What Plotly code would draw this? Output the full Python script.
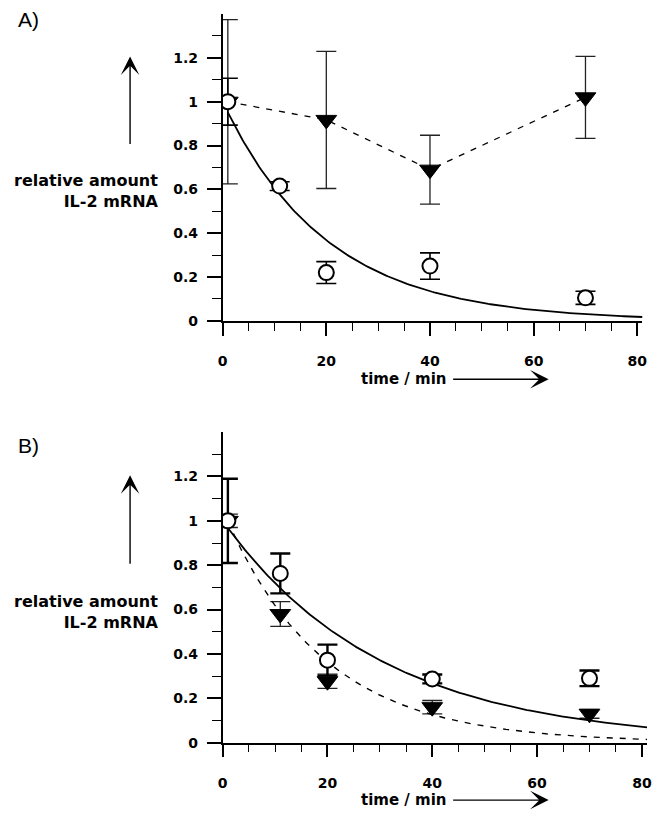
import numpy as np
import plotly.graph_objects as go

# ---------------- data ----------------
# Panel A
a_circ_t = [1, 11, 20, 40, 70]
a_circ_y = [1.0, 0.615, 0.22, 0.25, 0.105]
a_circ_err = [0.107, 0.02, 0.05, 0.06, 0.03]

a_tri_t = [1, 20, 40, 70]
a_tri_y = [1.0, 0.917, 0.69, 1.02]
a_tri_err = [0.375, 0.313, 0.157, 0.187]

# single-exponential fit for the open circles (A)
a_fit_amp, a_fit_rate = 1.0, 0.05

# Panel B
b_circ_t = [1, 11, 20, 40, 70]
b_circ_y = [1.0, 0.763, 0.372, 0.287, 0.29]
b_circ_err = [0.19, 0.09, 0.07, 0.02, 0.035]

b_tri_t = [1, 11, 20, 40, 70]
b_tri_y = [1.0, 0.58, 0.277, 0.16, 0.13]
b_tri_err = [0.03, 0.056, 0.032, 0.03, 0.02]

# single-exponential fits (B): circles solid, triangles dashed
b_fit_amp, b_fit_rate = 1.0, 0.033
b_fit2_amp, b_fit2_rate = 1.05, 0.053

x_ticks = [0, 20, 40, 60, 80]
x_minor = [5, 10, 15, 25, 30, 35, 45, 50, 55, 65, 70, 75]
y_ticks = [0, 0.2, 0.4, 0.6, 0.8, 1.0, 1.2]
y_tick_text = ["0", "0.2", "0.4", "0.6", "0.8", "1", "1.2"]
y_minor = [0.1, 0.3, 0.5, 0.7, 0.9, 1.1, 1.3]

W, H = 660, 816
BOLD = "DejaVu Sans"


def px(x):
    return x / W


def py(y):
    return 1 - y / H


t_fit = np.linspace(1, 81, 200)

fig = go.Figure()


def add_panel(xa, ya, circ_t, circ_y, circ_err, tri_t, tri_y, tri_err,
              tri_dashed_points, fits, circ_err_width):
    # triangles (filled) with error bars
    fig.add_trace(go.Scatter(
        x=tri_t, y=tri_y, xaxis=xa, yaxis=ya,
        mode="lines+markers" if tri_dashed_points else "markers",
        line=dict(color="black", width=1.3, dash="6px,7px"),
        marker=dict(symbol="triangle-down", size=18, color="black",
                    line=dict(color="black", width=1)),
        error_y=dict(type="data", array=tri_err, visible=True,
                     color="#222", thickness=1.3, width=10),
        showlegend=False, hoverinfo="skip"))
    # fitted curves
    for amp, rate, dash in fits:
        fig.add_trace(go.Scatter(
            x=t_fit, y=amp * np.exp(-rate * t_fit), xaxis=xa, yaxis=ya,
            mode="lines",
            line=dict(color="black", width=1.8 if dash == "solid" else 1.4,
                      dash=dash),
            showlegend=False, hoverinfo="skip"))
    # open circles with error bars
    fig.add_trace(go.Scatter(
        x=circ_t, y=circ_y, xaxis=xa, yaxis=ya, mode="markers",
        marker=dict(symbol="circle", size=15, color="white",
                    line=dict(color="black", width=2)),
        error_y=dict(type="data", array=circ_err, visible=True,
                     color="black", thickness=circ_err_width, width=10),
        showlegend=False, hoverinfo="skip"))


add_panel("x", "y", a_circ_t, a_circ_y, a_circ_err,
          a_tri_t, a_tri_y, a_tri_err, True,
          [(a_fit_amp, a_fit_rate, "solid")], 1.6)
add_panel("x2", "y2", b_circ_t, b_circ_y, b_circ_err,
          b_tri_t, b_tri_y, b_tri_err, False,
          [(b_fit_amp, b_fit_rate, "solid"),
           (b_fit2_amp, b_fit2_rate, "6px,7px")], 2.4)

xaxis_common = dict(
    range=[0, 81], showgrid=False, zeroline=False, showline=True,
    linecolor="black", linewidth=1.5, ticks="outside", ticklen=13,
    tickwidth=1.5, tickcolor="black", tickvals=x_ticks,
    ticklabelstandoff=14,
    tickfont=dict(family=BOLD, size=14, color="black", weight="bold"),
    minor=dict(tickvals=x_minor, ticks="outside", ticklen=8,
               tickwidth=1.3, tickcolor="black"),
)
yaxis_common = dict(
    range=[0, 1.4], showgrid=False, zeroline=False, showline=True,
    linecolor="black", linewidth=1.5, ticks="outside", ticklen=14,
    tickwidth=1.5, tickcolor="black", tickvals=y_ticks,
    ticktext=y_tick_text, ticklabelstandoff=6,
    tickfont=dict(family=BOLD, size=14, color="black", weight="bold"),
    minor=dict(tickvals=y_minor, ticks="outside", ticklen=9,
               tickwidth=1.3, tickcolor="black"),
)

fig.update_layout(
    width=W, height=H, margin=dict(l=0, r=0, t=0, b=0),
    paper_bgcolor="white", plot_bgcolor="white",
    xaxis=dict(xaxis_common, domain=[px(221), px(647.3)], anchor="y"),
    yaxis=dict(yaxis_common, domain=[py(324), py(14.2)], anchor="x"),
    xaxis2=dict(xaxis_common, domain=[px(221), px(652)], anchor="y2"),
    yaxis2=dict(yaxis_common, domain=[py(750), py(436.4)], anchor="x2"),
)

annotations = []
for label, ly, ylab_c, xlab_y, arrow_tip, arrow_tail in [
        ("A)", 20, 193, 383, 57, 146),
        ("B)", 450, 618, 808, 480, 570)]:
    annotations.append(dict(
        x=px(11), y=py(ly), xref="paper", yref="paper", text=label,
        showarrow=False, xanchor="left", yanchor="middle",
        font=dict(family="Liberation Sans", size=21, color="black")))
    annotations.append(dict(
        x=px(158), y=py(ylab_c), xref="paper", yref="paper",
        text="relative amount<br>IL-2 mRNA", showarrow=False,
        xanchor="right", yanchor="middle", align="right",
        font=dict(family=BOLD, size=16, color="black", weight="bold")))
    annotations.append(dict(
        x=px(359), y=py(xlab_y), xref="paper", yref="paper",
        text="time / min", showarrow=False, xanchor="left",
        yanchor="middle",
        font=dict(family=BOLD, size=15, color="black", weight="bold")))
    # horizontal arrow next to the x-axis title
    annotations.append(dict(
        x=px(552), y=py(xlab_y), xref="paper", yref="paper", text="",
        showarrow=True, ax=-97, ay=0, axref="pixel", ayref="pixel",
        arrowhead=3, arrowsize=2.2, arrowwidth=1.4, arrowcolor="black"))
    # vertical arrow above the y-axis title
    annotations.append(dict(
        x=px(127), y=py(arrow_tip), xref="paper", yref="paper", text="",
        showarrow=True, ax=0, ay=arrow_tail - arrow_tip,
        axref="pixel", ayref="pixel",
        arrowhead=3, arrowsize=2.2, arrowwidth=1.4, arrowcolor="black"))

fig.update_layout(annotations=annotations)

fig.write_html("out.html")
